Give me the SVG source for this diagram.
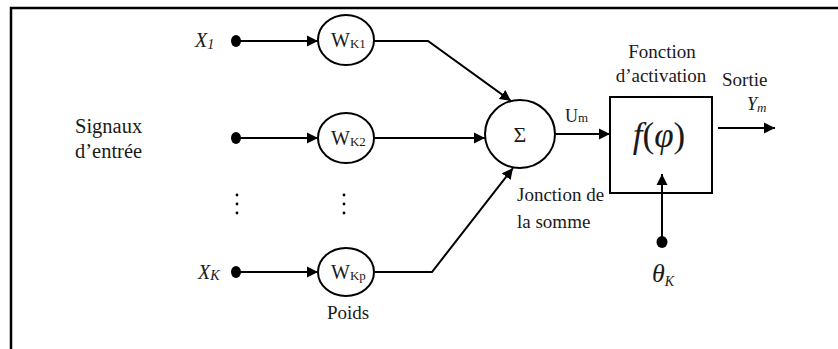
<svg xmlns="http://www.w3.org/2000/svg" width="838" height="349" viewBox="0 0 838 349">
<defs>
<marker id="ah" markerUnits="userSpaceOnUse" markerWidth="12" markerHeight="12" refX="11" refY="6" orient="auto">
<path d="M0,0.5 L11,6 L0,11.5 z" fill="#000"/>
</marker>
</defs>
<style>
text{font-family:'Liberation Serif','Times New Roman',serif;fill:#1a1a1a}
.t{font-size:19px}
.i{font-style:italic}
.n{fill:#fff;stroke:#000;stroke-width:2}
.c{fill:none;stroke:#000;stroke-width:2}
.a{marker-end:url(#ah)}
.d{fill:#000}
</style>
<rect width="838" height="349" fill="#fff"/>
<path d="M11,349 L11,8 L838,8" fill="none" stroke="#000" stroke-width="2.5"/>

<g id="inputs">
<ellipse class="d" cx="236" cy="41" rx="5" ry="6"/>
<ellipse class="d" cx="236" cy="138" rx="5" ry="6"/>
<ellipse class="d" cx="236" cy="272" rx="5" ry="6"/>
<text class="i" x="195" y="47" style="font-size:20px">X<tspan font-size="14" dy="2">1</tspan></text>
<text class="i" x="198" y="279" style="font-size:20px">X<tspan font-size="14" dy="1">K</tspan></text>
<text class="t" x="75" y="133" style="font-size:20.5px">Signaux</text>
<text class="t" x="75" y="158" style="font-size:20.5px">d’entrée</text>
<g class="d">
<circle cx="237" cy="195" r="1.4"/><circle cx="237" cy="204" r="1.4"/><circle cx="237" cy="213" r="1.4"/>
<circle cx="344" cy="195" r="1.4"/><circle cx="344" cy="204" r="1.4"/><circle cx="344" cy="213" r="1.4"/>
</g>
</g>

<g id="w1">
<ellipse class="n" cx="346" cy="40" rx="28" ry="25"/>
<text x="331" y="47" style="font-size:20px">W<tspan font-size="13" dy="1">K1</tspan></text>
</g>
<g id="w2">
<ellipse class="n" cx="346" cy="138" rx="28" ry="25"/>
<text x="331" y="145" style="font-size:20px">W<tspan font-size="13" dy="1">K2</tspan></text>
</g>
<g id="wp">
<ellipse class="n" cx="346" cy="272" rx="28" ry="24"/>
<text x="331" y="279" style="font-size:20px">W<tspan font-size="13" dy="1">Kp</tspan></text>
<text class="t" x="348" y="319" text-anchor="middle">Poids</text>
</g>

<g id="sum">
<ellipse class="n" cx="520" cy="134" rx="35" ry="34"/>
<text x="520" y="142" text-anchor="middle" style="font-size:22px">Σ</text>
<text class="t" x="517" y="201">Jonction de</text>
<text class="t" x="517" y="228">la somme</text>
<text x="565" y="122" style="font-size:18px">U<tspan font-size="13">m</tspan></text>
</g>

<g id="activation">
<rect class="n" x="610" y="97" width="102" height="96"/>
<text x="659" y="147" text-anchor="middle" style="font-size:35px"><tspan class="i">f</tspan>(<tspan class="i">φ</tspan>)</text>
<text class="t" x="662" y="58" text-anchor="middle">Fonction</text>
<text class="t" x="661" y="82" text-anchor="middle">d’activation</text>
</g>

<g id="bias">
<ellipse class="d" cx="662" cy="242" rx="5.5" ry="6"/>
<text class="i" x="652" y="282" style="font-size:26px">θ<tspan font-size="14" dy="4">K</tspan></text>
</g>

<g id="output">
<text class="t" x="722" y="86">Sortie</text>
<text class="i" x="747" y="110" style="font-size:18px">Y<tspan font-size="13" dy="2">m</tspan></text>
</g>

<g id="connectors">
<path class="c a" d="M237,41 L318,41"/>
<path class="c a" d="M237,138 L318,138"/>
<path class="c a" d="M237,272 L318,272"/>
<path class="c a" d="M374,41 L428,41 L511,101"/>
<path class="c a" d="M374,138 L485,138"/>
<path class="c a" d="M374,272 L432,272 L513,168"/>
<path class="c a" d="M555,134 L610,134"/>
<path class="c a" d="M718,128 L775,128"/>
<path class="c a" d="M662,242 L662,174"/>
</g>
</svg>
